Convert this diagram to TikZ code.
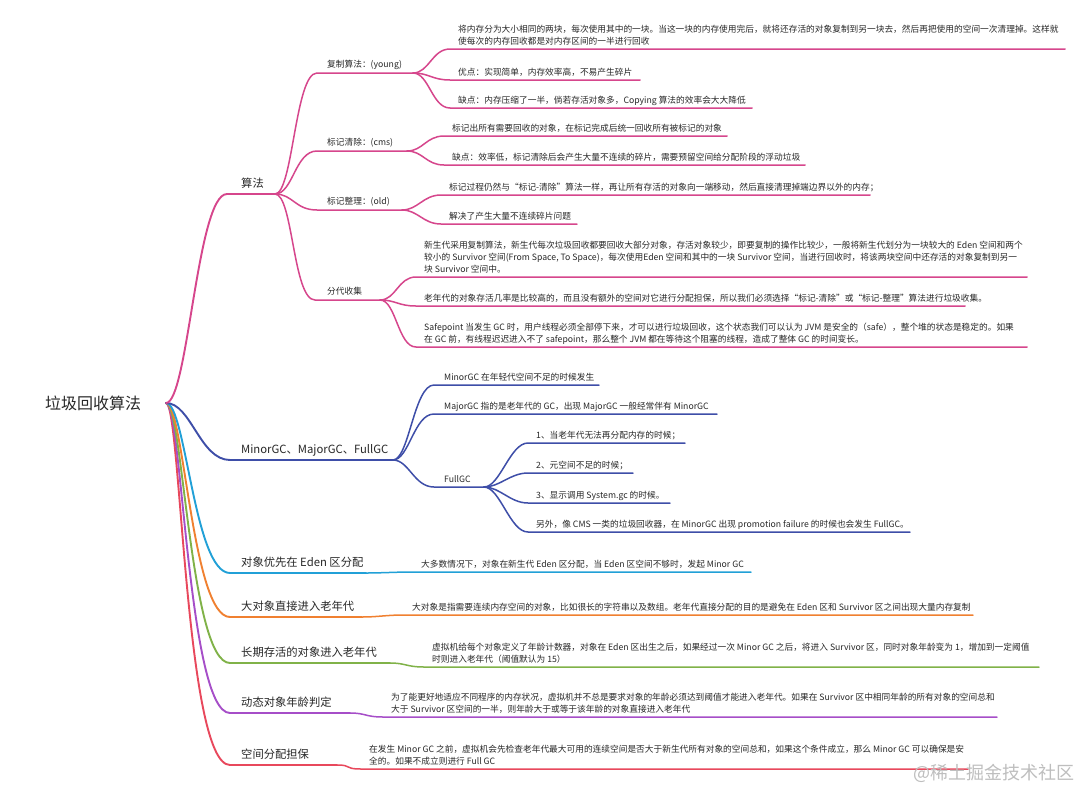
\documentclass[tikz,border=0pt]{standalone}
\usepackage{fontspec}
\newfontfamily\cjk{Noto Sans CJK SC}
\definecolor{pk}{RGB}{214,70,140}
\definecolor{bl}{RGB}{62,78,168}
\definecolor{cy}{RGB}{33,160,215}
\definecolor{og}{RGB}{240,128,48}
\definecolor{gr}{RGB}{128,178,72}
\definecolor{pu}{RGB}{166,78,200}
\definecolor{rd}{RGB}{232,72,92}
\definecolor{tx}{RGB}{40,40,40}
\definecolor{wm}{RGB}{190,190,190}
\begin{document}
\begin{tikzpicture}[x=1pt,y=-1pt]
\tikzset{
  rootlbl/.style={font=\cjk\fontsize{16}{19}\selectfont, text=tx, inner sep=0, anchor=base west},
  lvA/.style={font=\cjk\fontsize{11.3}{14}\selectfont, text=tx, inner sep=0, anchor=base west},
  lvB/.style={font=\cjk\fontsize{8.7}{11.5}\selectfont, text=tx, inner sep=0, anchor=base west},
  leaf/.style={font=\cjk\fontsize{8.7}{11.8}\selectfont, text=tx, inner sep=0, anchor=base west, align=left},
  mainln/.style={line width=1.9pt, line cap=round},
  subln/.style={line width=1.5pt, line cap=round},
}
\fill[white] (0,0) rectangle (1080,788);
\useasboundingbox (0,0) rectangle (1080,788);

% root
\node[rootlbl] (root) at (45,409) {垃圾回收算法};
\coordinate (rj) at (166,403);

% ---------- level 2 ----------
\coordinate (s1) at (227,194); \coordinate (j1) at (275,194);
\coordinate (s2) at (230,460); \coordinate (j2) at (393,460);
\coordinate (s3) at (230,573); \coordinate (j3) at (366,573);
\coordinate (s4) at (230,617); \coordinate (j4) at (362,617);
\coordinate (s5) at (230,663); \coordinate (j5) at (390,663);
\coordinate (s6) at (230,713); \coordinate (j6) at (350,713);
\coordinate (s7) at (230,765); \coordinate (j7) at (337,765);

\draw[mainln,rd] (rj) .. controls +(15,0) and +(-45,0) .. (s7) -- (j7);
\draw[mainln,pu] (rj) .. controls +(16,0) and +(-42,0) .. (s6) -- (j6);
\draw[mainln,gr] (rj) .. controls +(17,0) and +(-40,0) .. (s5) -- (j5);
\draw[mainln,og] (rj) .. controls +(18,0) and +(-38,0) .. (s4) -- (j4);
\draw[mainln,cy] (rj) .. controls +(20,0) and +(-36,0) .. (s3) -- (j3);
\draw[mainln,bl] (rj) .. controls +(25,0) and +(-30,0) .. (s2) -- (j2);
\draw[mainln,pk] (rj) .. controls +(22,0) and +(-30,0) .. (s1) -- (j1);

\node[lvA] (n1) at (241,187) {算法};
\node[lvA] (n2) at (241,453) {MinorGC、MajorGC、FullGC};
\node[lvA] (n3) at (241,566) {对象优先在 Eden 区分配};
\node[lvA] (n4) at (241,610) {大对象直接进入老年代};
\node[lvA] (n5) at (241,656) {长期存活的对象进入老年代};
\node[lvA] (n6) at (241,706) {动态对象年龄判定};
\node[lvA] (n7) at (241,758) {空间分配担保};

% ---------- 算法 subtree ----------
\coordinate (s11) at (317,73);  \coordinate (j11) at (413,73);
\coordinate (s12) at (317,151); \coordinate (j12) at (407,151);
\coordinate (s13) at (317,210); \coordinate (j13) at (402,210);
\coordinate (s14) at (315,300); \coordinate (j14) at (380,300);
\foreach \k in {11,12,13,14}
  \draw[subln,pk] (j1) .. controls +(18,0) and +(-22,0) .. (s\k) -- (j\k);
\node[lvB] (n11) at (327,67) {复制算法：(young)};
\node[lvB] (n12) at (327,145) {标记清除：(cms)};
\node[lvB] (n13) at (327,204) {标记整理：(old)};
\node[lvB] (n14) at (327,294) {分代收集};

% 复制算法 leaves
\coordinate (s111) at (450,49);  \coordinate (e111) at (1065,49);
\coordinate (s112) at (450,80);  \coordinate (e112) at (640,80);
\coordinate (s113) at (450,108); \coordinate (e113) at (752,108);
\foreach \k in {111,112,113}
  \draw[subln,pk] (j11) .. controls +(16,0) and +(-18,0) .. (s\k) -- (e\k);
\node[leaf] (n111) at (458,44) {将内存分为大小相同的两块，每次使用其中的一块。当这一块的内存使用完后，就将还存活的对象复制到另一块去，然后再把使用的空间一次清理掉。这样就\\使每次的内存回收都是对内存区间的一半进行回收};
\node[leaf] (n112) at (458,75) {优点：实现简单，内存效率高，不易产生碎片};
\node[leaf] (n113) at (458,103) {缺点：内存压缩了一半，倘若存活对象多，Copying 算法的效率会大大降低};

% 标记清除 leaves
\coordinate (s121) at (444,136); \coordinate (e121) at (727,136);
\coordinate (s122) at (444,165); \coordinate (e122) at (805,165);
\foreach \k in {121,122}
  \draw[subln,pk] (j12) .. controls +(16,0) and +(-18,0) .. (s\k) -- (e\k);
\node[leaf] (n121) at (452,131) {标记出所有需要回收的对象，在标记完成后统一回收所有被标记的对象};
\node[leaf] (n122) at (452,160) {缺点：效率低，标记清除后会产生大量不连续的碎片，需要预留空间给分配阶段的浮动垃圾};

% 标记整理 leaves
\coordinate (s131) at (441,195); \coordinate (e131) at (870,195);
\coordinate (s132) at (441,224); \coordinate (e132) at (577,224);
\foreach \k in {131,132}
  \draw[subln,pk] (j13) .. controls +(16,0) and +(-18,0) .. (s\k) -- (e\k);
\node[leaf] (n131) at (449,190) {标记过程仍然与“标记-清除”算法一样，再让所有存活的对象向一端移动，然后直接清理掉端边界以外的内存；};
\node[leaf] (n132) at (449,219) {解决了产生大量不连续碎片问题};

% 分代收集 leaves
\coordinate (s141) at (416,277); \coordinate (e141) at (1027,277);
\coordinate (s142) at (416,306); \coordinate (e142) at (965,306);
\coordinate (s143) at (416,347); \coordinate (e143) at (1027,347);
\foreach \k in {141,142,143}
  \draw[subln,pk] (j14) .. controls +(16,0) and +(-18,0) .. (s\k) -- (e\k);
\node[leaf] (n141) at (424,272) {新生代采用复制算法，新生代每次垃圾回收都要回收大部分对象，存活对象较少，即要复制的操作比较少，一般将新生代划分为一块较大的 Eden 空间和两个\\较小的 Survivor 空间(From Space, To Space)，每次使用Eden 空间和其中的一块 Survivor 空间，当进行回收时，将该两块空间中还存活的对象复制到另一\\块 Survivor 空间中。};
\node[leaf] (n142) at (424,301) {老年代的对象存活几率是比较高的，而且没有额外的空间对它进行分配担保，所以我们必须选择“标记-清除”或“标记-整理”算法进行垃圾收集。};
\node[leaf] (n143) at (424,342) {Safepoint 当发生 GC 时，用户线程必须全部停下来，才可以进行垃圾回收，这个状态我们可以认为 JVM 是安全的（safe），整个堆的状态是稳定的。如果\\在 GC 前，有线程迟迟进入不了 safepoint，那么整个 JVM 都在等待这个阻塞的线程，造成了整体 GC 的时间变长。};

% ---------- MinorGC subtree ----------
\coordinate (s21) at (434,385); \coordinate (e21) at (599,385);
\coordinate (s22) at (434,414); \coordinate (e22) at (717,414);
\coordinate (s23) at (434,487); \coordinate (j23) at (484,487);
\draw[subln,bl] (j2) .. controls +(16,0) and +(-20,0) .. (s21) -- (e21);
\draw[subln,bl] (j2) .. controls +(16,0) and +(-20,0) .. (s22) -- (e22);
\draw[subln,bl] (j2) .. controls +(16,0) and +(-20,0) .. (s23) -- (j23);
\node[leaf] (n21) at (444,380) {MinorGC 在年轻代空间不足的时候发生};
\node[leaf] (n22) at (444,409) {MajorGC 指的是老年代的 GC，出现 MajorGC 一般经常伴有 MinorGC};
\node[lvB] (n23) at (444,482) {FullGC};

\coordinate (s231) at (528,443); \coordinate (e231) at (685,443);
\coordinate (s232) at (528,473); \coordinate (e232) at (633,473);
\coordinate (s233) at (528,503); \coordinate (e233) at (670,503);
\coordinate (s234) at (528,532); \coordinate (e234) at (910,532);
\foreach \k in {231,232,233,234}
  \draw[subln,bl] (j23) .. controls +(16,0) and +(-18,0) .. (s\k) -- (e\k);
\node[leaf] (n231) at (536,438) {1、当老年代无法再分配内存的时候；};
\node[leaf] (n232) at (536,468) {2、元空间不足的时候；};
\node[leaf] (n233) at (536,498) {3、显示调用 System.gc 的时候。};
\node[leaf] (n234) at (536,527) {另外，像 CMS 一类的垃圾回收器，在 MinorGC 出现 promotion failure 的时候也会发生 FullGC。};

% ---------- single-leaf branches ----------
\coordinate (s31) at (413,572); \coordinate (e31) at (751,572);
\draw[subln,cy] (j3) .. controls +(16,0) and +(-18,0) .. (s31) -- (e31);
\node[leaf] (n31) at (421,567) {大多数情况下，对象在新生代 Eden 区分配，当 Eden 区空间不够时，发起 Minor GC};

\coordinate (s41) at (404,615); \coordinate (e41) at (973,615);
\draw[subln,og] (j4) .. controls +(16,0) and +(-18,0) .. (s41) -- (e41);
\node[leaf] (n41) at (412,610) {大对象是指需要连续内存空间的对象，比如很长的字符串以及数组。老年代直接分配的目的是避免在 Eden 区和 Survivor 区之间出现大量内存复制};

\coordinate (s51) at (424,667); \coordinate (e51) at (1039,667);
\draw[subln,gr] (j5) .. controls +(16,0) and +(-18,0) .. (s51) -- (e51);
\node[leaf] (n51) at (432,662) {虚拟机给每个对象定义了年龄计数器，对象在 Eden 区出生之后，如果经过一次 Minor GC 之后，将进入 Survivor 区，同时对象年龄变为 1，增加到一定阈值\\时则进入老年代（阈值默认为 15）};

\coordinate (s61) at (383,717); \coordinate (e61) at (997,717);
\draw[subln,pu] (j6) .. controls +(16,0) and +(-18,0) .. (s61) -- (e61);
\node[leaf] (n61) at (391,712) {为了能更好地适应不同程序的内存状况，虚拟机并不总是要求对象的年龄必须达到阈值才能进入老年代。如果在 Survivor 区中相同年龄的所有对象的空间总和\\大于 Survivor 区空间的一半，则年龄大于或等于该年龄的对象直接进入老年代};

\coordinate (s71) at (361,769); \coordinate (e71) at (968,769);
\draw[subln,rd] (j7) .. controls +(16,0) and +(-18,0) .. (s71) -- (e71);
\node[leaf] (n71) at (369,764) {在发生 Minor GC 之前，虚拟机会先检查老年代最大可用的连续空间是否大于新生代所有对象的空间总和，如果这个条件成立，那么 Minor GC 可以确保是安\\全的。如果不成立则进行 Full GC};

% watermark
\node[font=\cjk\fontsize{18}{18}\selectfont, text=wm, inner sep=0, anchor=base west] (wmk) at (913,779) {@稀土掘金技术社区};
\end{tikzpicture}
\end{document}
